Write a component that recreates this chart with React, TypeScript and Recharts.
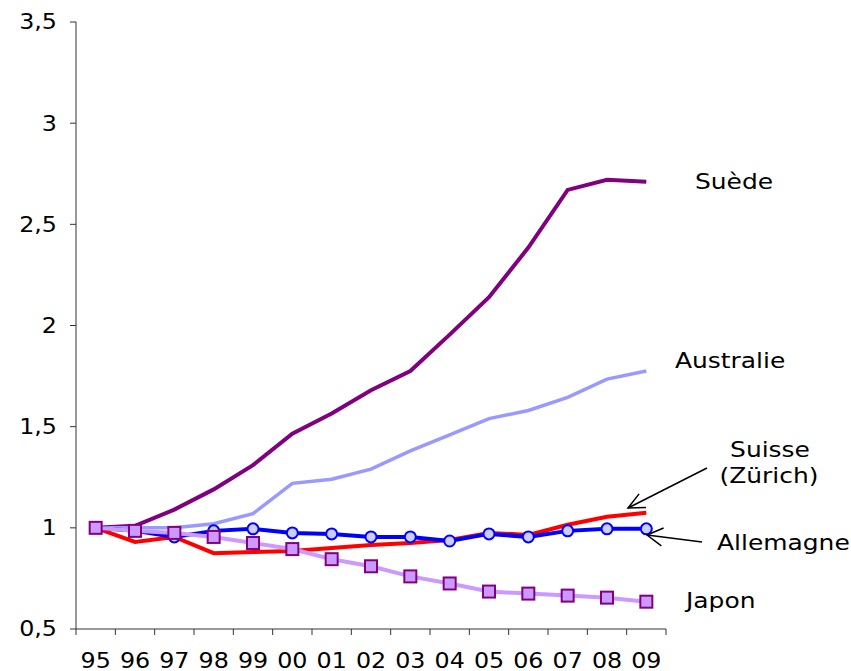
import { LineChart, Line, XAxis, YAxis } from "recharts";

const years = ["95", "96", "97", "98", "99", "00", "01", "02", "03", "04", "05", "06", "07", "08", "09"];
const suede = [1.0, 1.01, 1.09, 1.19, 1.31, 1.465, 1.565, 1.68, 1.775, 1.955, 2.14, 2.385, 2.67, 2.72, 2.71];
const australie = [1.0, 1.0, 1.0, 1.02, 1.07, 1.22, 1.24, 1.29, 1.38, 1.46, 1.54, 1.58, 1.645, 1.735, 1.775];
const suisse = [1.0, 0.93, 0.955, 0.875, 0.88, 0.885, 0.9, 0.915, 0.925, 0.94, 0.975, 0.965, 1.015, 1.055, 1.075];
const allemagne = [1.0, 0.985, 0.955, 0.985, 0.995, 0.975, 0.97, 0.955, 0.955, 0.935, 0.97, 0.955, 0.985, 0.995, 0.995];
const japon = [1.0, 0.985, 0.975, 0.955, 0.925, 0.895, 0.845, 0.81, 0.76, 0.725, 0.685, 0.675, 0.665, 0.655, 0.635];
const yTicks = [0.5, 1, 1.5, 2, 2.5, 3, 3.5];

const data = years.map((year, i) => ({
  year,
  suede: suede[i],
  australie: australie[i],
  suisse: suisse[i],
  allemagne: allemagne[i],
  japon: japon[i],
}));

const CHART_W = 851;
const CHART_H = 671;
const MARGIN = { top: 22, right: 185, bottom: 0, left: 0 };
const Y_AXIS_W = 76;
const X_AXIS_H = 42;
const PLOT_BOTTOM = CHART_H - MARGIN.bottom - X_AXIS_H;
const HALF_BAND = (CHART_W - MARGIN.left - MARGIN.right - Y_AXIS_W) / years.length / 2;

const FONT = "'DejaVu Sans', Verdana, sans-serif";
// the source picture is a bit stretched sideways
const STRETCH = 1.16;
const AXIS_COLOR = "#333";

function YTick(props: any) {
  const { x, y, payload } = props;
  return (
    <text
      transform={`translate(${x},${y}) scale(${STRETCH},1)`}
      textAnchor="end"
      dy="0.36em"
      fontSize={20.5}
      fontFamily={FONT}
      fill="#000"
    >
      {String(payload.value).replace(".", ",")}
    </text>
  );
}

function XTick(props: any) {
  const { x, payload, index } = props;
  return (
    <g>
      <text
        transform={`translate(${x},${PLOT_BOTTOM + 39}) scale(${STRETCH},1)`}
        textAnchor="middle"
        fontSize={20.5}
        fontFamily={FONT}
        fill="#000"
      >
        {payload.value}
      </text>
      <line x1={x - HALF_BAND} x2={x - HALF_BAND} y1={PLOT_BOTTOM} y2={PLOT_BOTTOM + 6} stroke={AXIS_COLOR} />
      {index === years.length - 1 && (
        <line x1={x + HALF_BAND} x2={x + HALF_BAND} y1={PLOT_BOTTOM} y2={PLOT_BOTTOM + 6} stroke={AXIS_COLOR} />
      )}
    </g>
  );
}

function SquareDot(props: any) {
  const { cx, cy, index } = props;
  if (cx == null || cy == null) return null;
  return (
    <rect key={`sq-${index}`} x={cx - 6} y={cy - 6} width={12} height={12} fill="#CC99FF" stroke="#800080" strokeWidth={2} />
  );
}

function Label({ x, y, anchor = "start", children }: { x: number; y: number; anchor?: string; children: string }) {
  return (
    <text
      transform={`translate(${x},${y}) scale(${STRETCH},1)`}
      textAnchor={anchor}
      fontSize={21.5}
      fontFamily={FONT}
      fill="#000"
    >
      {children}
    </text>
  );
}

function Arrow({ from, to, spread = 27 }: { from: [number, number]; to: [number, number]; spread?: number }) {
  const ang = Math.atan2(from[1] - to[1], from[0] - to[0]);
  const len = 18;
  const a1 = ang + (spread * Math.PI) / 180;
  const a2 = ang - (spread * Math.PI) / 180;
  const p1 = [to[0] + len * Math.cos(a1), to[1] + len * Math.sin(a1)];
  const p2 = [to[0] + len * Math.cos(a2), to[1] + len * Math.sin(a2)];
  return (
    <g stroke="#000" strokeWidth={1.5} fill="none">
      <line x1={from[0]} y1={from[1]} x2={to[0]} y2={to[1]} />
      <polyline points={`${p1[0]},${p1[1]} ${to[0]},${to[1]} ${p2[0]},${p2[1]}`} />
    </g>
  );
}

export default function App() {
  return (
    <div style={{ position: "absolute", left: 0, top: 0, width: CHART_W, height: CHART_H, background: "#fff" }}>
      <LineChart width={CHART_W} height={CHART_H} data={data} margin={MARGIN}>
        <XAxis
          dataKey="year"
          scale="band"
          height={X_AXIS_H}
          tickLine={false}
          axisLine={{ stroke: AXIS_COLOR }}
          tick={<XTick />}
          interval={0}
        />
        <YAxis
          type="number"
          domain={[0.5, 3.5]}
          ticks={yTicks}
          width={Y_AXIS_W}
          tickSize={6}
          tickMargin={13}
          axisLine={{ stroke: AXIS_COLOR }}
          tickLine={{ stroke: AXIS_COLOR }}
          tick={<YTick />}
          interval={0}
        />
        <Line dataKey="suede" stroke="#800080" strokeWidth={4} dot={false} isAnimationActive={false} />
        <Line dataKey="australie" stroke="#9999FF" strokeWidth={3.5} dot={false} isAnimationActive={false} />
        <Line dataKey="suisse" stroke="#FF0000" strokeWidth={4} dot={false} isAnimationActive={false} />
        <Line
          dataKey="allemagne"
          stroke="#0000FF"
          strokeWidth={4}
          dot={{ r: 5.5, fill: "#CCCCFF", stroke: "#0000FF", strokeWidth: 2 }}
          isAnimationActive={false}
        />
        <Line dataKey="japon" stroke="#CC99FF" strokeWidth={4} dot={<SquareDot />} isAnimationActive={false} />
      </LineChart>
      <svg
        width={CHART_W}
        height={CHART_H}
        style={{ position: "absolute", left: 0, top: 0, pointerEvents: "none" }}
      >
        <Label x={695} y={189}>Suède</Label>
        <Label x={675} y={368}>Australie</Label>
        <Label x={770} y={457} anchor="middle">Suisse</Label>
        <Label x={769} y={483} anchor="middle">(Zürich)</Label>
        <Label x={717} y={550}>Allemagne</Label>
        <Label x={686} y={608}>Japon</Label>
        <Arrow from={[707, 468]} to={[628, 508]} spread={25} />
        <Arrow from={[702, 542]} to={[647, 535]} spread={30} />
      </svg>
    </div>
  );
}
